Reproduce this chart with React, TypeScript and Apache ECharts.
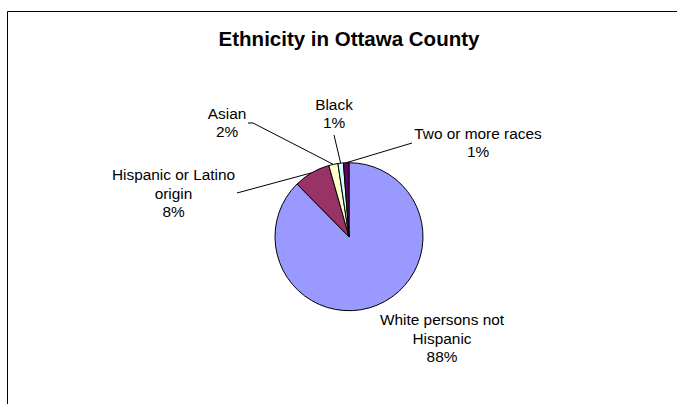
import React, { useEffect, useRef } from "react";
import * as echarts from "echarts";

const TITLE = "Ethnicity in Ottawa County";
const categories = [
  "White persons not\nHispanic",
  "Hispanic or Latino\norigin",
  "Asian",
  "Black",
  "Two or more races",
];
const values = [87.6, 8.0, 2.0, 1.2, 1.2];
const colors = ["#9999FF", "#993366", "#FFFFCC", "#CCFFFF", "#660066"];

// label anchor (center of text block) and leader start point, per slice
const labelPos: [number, number][] = [
  [442, 338],
  [173.5, 193],
  [227, 122.5],
  [334, 113.5],
  [478, 142.5],
];
const leaderStart: ([number, number] | null)[] = [
  null,
  [237, 193],
  [248, 123],
  [334, 135],
  [412, 143],
];

const CX = 349;
const CY = 236.7;
const R = 74;

export default function App() {
  const ref = useRef<HTMLDivElement>(null);
  useEffect(() => {
    document.body.style.margin = "0";
    const chart = echarts.init(ref.current!, null, { renderer: "svg" });
    const total = values.reduce((a, b) => a + b, 0);
    chart.setOption({
      animation: false,
      backgroundColor: "#fff",
      graphic: [
        {
          type: "rect",
          shape: { x: 7.5, y: 11.5, width: 800, height: 600 },
          style: { fill: "none", stroke: "#000", lineWidth: 1 },
          silent: true,
        },
        {
          type: "text",
          x: CX,
          y: 38,
          style: {
            text: TITLE,
            fill: "#000",
            font: "bold 20.5px 'Liberation Sans', Arial, sans-serif",
            textAlign: "center",
            textVerticalAlign: "middle",
          },
          silent: true,
        },
      ],
      series: [
        {
          type: "pie",
          center: [CX, CY],
          radius: R,
          startAngle: 90,
          clockwise: true,
          silent: true,
          emphasis: { disabled: true },
          itemStyle: { borderColor: "#000", borderWidth: 1 },
          label: {
            show: true,
            position: "outside",
            color: "#000",
            fontFamily: "'Liberation Sans', Arial, sans-serif",
            fontSize: 15.4,
            lineHeight: 18.5,
            align: "center",
            formatter: (p: any) =>
              `${p.name}\n${Math.round((p.value / total) * 100)}%`,
          },
          labelLine: {
            show: true,
            lineStyle: { color: "#000", width: 1 },
          },
          labelLayout: (params: any) => {
            const i = params.dataIndex;
            const [lx, ly] = labelPos[i];
            const res: any = {
              x: lx,
              y: ly,
              align: "center",
              verticalAlign: "middle",
            };
            const st = leaderStart[i];
            if (st) {
              let arc = params.labelLinePoints && params.labelLinePoints[0];
              if (!arc) {
                let before = 0;
                for (let k = 0; k < i; k++) before += values[k];
                const mid = ((before + values[i] / 2) / total) * Math.PI * 2;
                arc = [CX + R * Math.sin(mid), CY - R * Math.cos(mid)];
              }
              const bend: [number, number] =
                i === 2 ? [st[0] + 5, st[1]] : [st[0], st[1]];
              res.labelLinePoints = [arc, bend, st];
            }
            return res;
          },
          data: categories.map((name, i) => ({
            name,
            value: values[i],
            itemStyle: { color: colors[i] },
            labelLine: { show: i !== 0 },
          })),
        },
      ],
    });
    return () => chart.dispose();
  }, []);
  return <div ref={ref} style={{ width: 677, height: 404 }} />;
}
